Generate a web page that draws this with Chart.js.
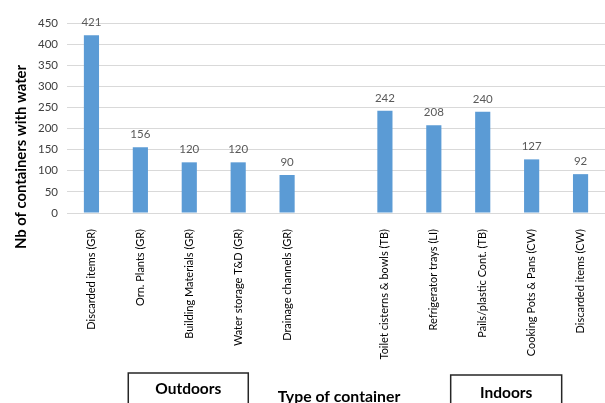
<!DOCTYPE html>
<html>
<head>
<meta charset="utf-8">
<script src="https://cdn.jsdelivr.net/npm/chart.js@4/dist/chart.umd.min.js"></script>
<style>
  html, body { margin: 0; padding: 0; overflow: hidden; background: #fff; }
  #wrap { position: relative; width: 605px; height: 406px; }
</style>
</head>
<body>
<div id="wrap"><canvas id="c"></canvas></div>
<script>
// Container types (blank entry separates outdoor from indoor groups)
const categories = [
  'Discarded items (GR)',
  'Orn. Plants (GR)',
  'Building Materials (GR)',
  'Water storage T&D (GR)',
  'Drainage channels (GR)',
  '',
  'Toilet cisterns & bowls (TB)',
  'Refrigerator trays (LI)',
  'Pails/plastic Cont. (TB)',
  'Cooking Pots & Pans (CW)',
  'Discarded items (CW)'
];
// Number of containers holding water
const containerCounts = [421, 156, 120, 120, 90, null, 242, 208, 240, 127, 92];
// Y axis range
const yMin = 0, yMax = 450, yStep = 50;
// Group labels and their category spans
const groupLabels = ['Outdoors', 'Indoors'];
const groupSpans = [[1, 3], [8, 9]];
const yTitle = 'Nb of containers with water';
const xTitle = 'Type of container';

const BAR = '#5B9BD5';

const valueLabels = {
  id: 'valueLabels',
  afterDatasetsDraw(chart) {
    const ctx = chart.ctx;
    const meta = chart.getDatasetMeta(0);
    ctx.save();
    ctx.font = '11.5px Lato, "Open Sans", sans-serif';
    ctx.fillStyle = '#595959';
    ctx.textAlign = 'center';
    ctx.textBaseline = 'bottom';
    meta.data.forEach((el, i) => {
      const v = containerCounts[i];
      if (v === null || v === undefined) return;
      ctx.fillText(String(v), el.x, el.y - 7);
    });
    ctx.restore();
  }
};

const annotations = {
  id: 'annotations',
  afterDraw(chart) {
    const ctx = chart.ctx;
    const area = chart.chartArea;
    const xs = chart.scales.x;
    ctx.save();
    // vertical axis title
    ctx.font = 'bold 14.8px Lato, "Open Sans", sans-serif';
    ctx.fillStyle = '#000';
    ctx.textAlign = 'center';
    ctx.textBaseline = 'middle';
    ctx.translate(21, 157);
    ctx.rotate(-Math.PI / 2);
    ctx.fillText(yTitle, 0, 0);
    ctx.restore();

    ctx.save();
    // horizontal axis title
    ctx.font = 'bold 15.8px Lato, "Open Sans", sans-serif';
    ctx.fillStyle = '#000';
    ctx.textAlign = 'center';
    ctx.textBaseline = 'alphabetic';
    ctx.fillText(xTitle, (area.left + area.right) / 2 + 3, area.bottom + 189);

    // group boxes
    const widths = [120, 111];
    const tops = [area.bottom + 160, area.bottom + 162];
    const bases = [area.bottom + 181, area.bottom + 185];
    groupLabels.forEach((g, k) => {
      const [a, b] = groupSpans[k];
      const cx = (xs.getPixelForValue(a) + xs.getPixelForValue(b)) / 2 - 1;
      const w = widths[k];
      ctx.strokeStyle = '#262626';
      ctx.lineWidth = 1.5;
      ctx.strokeRect(cx - w / 2, tops[k], w, 60);
      ctx.fillStyle = '#000';
      ctx.font = 'bold 15.5px Lato, "Open Sans", sans-serif';
      ctx.textAlign = 'center';
      ctx.fillText(g, cx, bases[k]);
    });
    ctx.restore();
  }
};

new Chart(document.getElementById('c'), {
  type: 'bar',
  data: {
    labels: categories,
    datasets: [{
      data: containerCounts,
      backgroundColor: BAR,
      borderWidth: 0,
      categoryPercentage: 1,
      barPercentage: 0.31
    }]
  },
  options: {
    responsive: true,
    maintainAspectRatio: false,
    animation: false,
    layout: { padding: { top: 23, right: 0, left: 0, bottom: 0 } },
    plugins: {
      legend: { display: false },
      tooltip: { enabled: false }
    },
    scales: {
      x: {
        grid: { display: false },
        border: { display: false },
        ticks: {
          autoSkip: false,
          minRotation: 90,
          maxRotation: 90,
          padding: 8,
          color: '#000',
          font: { family: 'Lato, "Open Sans", sans-serif', size: 11 }
        },
        afterFit(scale) { scale.height = 193; }
      },
      y: {
        min: yMin,
        max: yMax,
        border: { display: false },
        grid: { color: '#D9D9D9', lineWidth: 1, drawTicks: false },
        ticks: {
          stepSize: yStep,
          padding: 9,
          color: '#404040',
          font: { family: 'Lato, "Open Sans", sans-serif', size: 11.5 }
        },
        afterFit(scale) { scale.width = 67; }
      }
    }
  },
  plugins: [valueLabels, annotations]
});
</script>
</body>
</html>
